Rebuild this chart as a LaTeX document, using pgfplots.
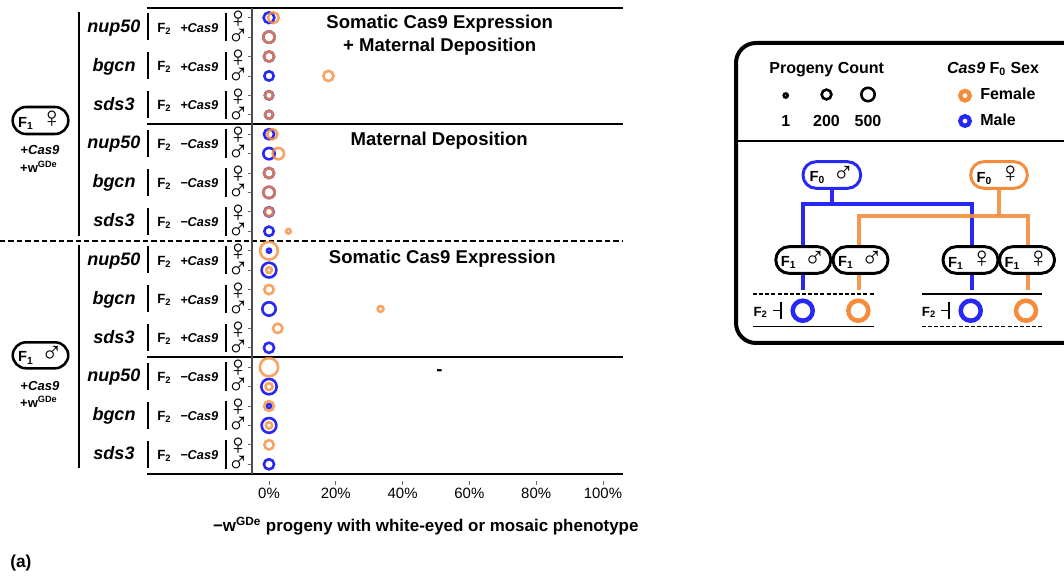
\documentclass[border=0pt]{standalone}
\usepackage{pgfplots}
\pgfplotsset{compat=1.18}
\usepackage{pgfplotstable}
\usepackage{fontspec}
\setmainfont{Liberation Sans}
\definecolor{cOr}{RGB}{245,140,60}
\definecolor{cBl}{RGB}{40,40,245}
\newcommand\fs[1]{\fontsize{#1}{#1}\selectfont}

% F0 male (blue): row (1 = top), x = % white-eyed/mosaic, n = progeny count
\pgfplotstableread{
row x n
1 0 270
2 0 317
3 0 227
4 0 175
5 0 120
6 0 101
7 0 227
8 0 317
9 0 227
10 0 317
11 0 175
12 0 175
13 0 1
14 0 654
16 0 500
18 0 227
20 0 726
21 0 1
22 0 654
24 0 227
}\maleT
% F0 female (orange)
\pgfplotstableread{
row x n
1 1.3 270
2 0 317
3 0 227
4 17.8 227
5 0 101
6 0 101
7 1.0 227
8 2.8 317
9 0 227
10 0 317
11 0 130
12 5.8 5
13 0 1051
14 0 25
15 0 175
16 33.4 25
17 2.6 175
19 0 1130
20 0 60
21 0 200
22 0 41
23 0 175
}\femaleT

\pgfplotsset{
  ring/.style={scatter, only marks, mark=o,
    scatter/use mapped color={draw=#1, fill=none},
    mark options={line width=1.95pt},
    visualization depends on={1.35+0.164*sqrt(\thisrow{n}) \as \ms},
    scatter/@pre marker code/.append style={/tikz/mark size=\ms}},
}

\begin{document}
\begin{tikzpicture}
\path[use as bounding box] (0,0) rectangle (798pt,-432.75pt);

\begin{scope}[x=0.75pt,y=-0.75pt]
  % frame lines of the panels
  \draw[line width=1.5pt] (147,8) -- (623,8);
  \draw[line width=1.5pt] (147,124.5) -- (623,124.5);
  \draw[line width=1.5pt] (147,357.3) -- (623,357.3);
  \draw[line width=1.5pt] (147,474) -- (623,474);
  \draw[line width=1.3pt, dash pattern=on 4pt off 2.3pt] (0,240.9) -- (623,240.9);
  \draw[line width=1pt, black!70] (252,8) -- (252,474);
  % group brackets
  \draw[line width=1.9pt] (79,12) -- (79,236);
  \draw[line width=1.9pt] (79,245) -- (79,468);
  % row labels
  \foreach \k/\g/\s in {0/nup50/+,1/bgcn/+,2/sds3/+,3/nup50/−,4/bgcn/−,5/sds3/−,6/nup50/+,7/bgcn/+,8/sds3/+,9/nup50/−,10/bgcn/−,11/sds3/−}{
    \pgfmathsetmacro\m{27.42+38.833*\k}
    \node[anchor=base, font=\fs{13.5}\bfseries\itshape, inner sep=0] at (114,\m+5) {\g};
    \draw[line width=1.7pt] (148,\m-14) -- (148,\m+13);
    \draw[line width=1.7pt] (226,\m-14.5) -- (226,\m+14);
    \node[anchor=base west, font=\fs{10}\bfseries, inner sep=0] at (157,\m+4.6) {F\textsubscript{2}};
    \node[anchor=base west, font=\fs{9.6}\bfseries\itshape, inner sep=0] at (180,\m+4.8) {\s Cas9};
    \node[font=\fs{22}, inner sep=0] at (238,\m-8.2) {♀};
    \node[font=\fs{22}, inner sep=0] at (238,\m+9.7) {♂};
  }
  % F1 boxes
  \draw[line width=1.9pt, rounded corners=10pt] (12.7,107) rectangle (68.3,134);
  \node[font=\fs{11}\bfseries] at (40.5,120.5) {F\textsubscript{1}\enspace{\fs{22}♀}};
  \node[anchor=base, font=\fs{9.8}\bfseries] at (40,155) {+\textit{Cas9}};
  \node[anchor=base, font=\fs{9.8}\bfseries] at (38.8,172.7) {+w\textsuperscript{GDe}};
  \draw[line width=1.9pt, rounded corners=10pt] (12.7,342.3) rectangle (68.3,368.3);
  \node[font=\fs{11}\bfseries] at (40.5,355.3) {F\textsubscript{1}\enspace{\fs{22}♂}};
  \node[anchor=base, font=\fs{9.8}\bfseries] at (40,390) {+\textit{Cas9}};
  \node[anchor=base, font=\fs{9.8}\bfseries] at (38.8,407.7) {+w\textsuperscript{GDe}};
  % panel titles
  \node[anchor=base, font=\fs{13.9}\bfseries] at (439.7,28.3) {Somatic Cas9 Expression};
  \node[anchor=base, font=\fs{13.9}\bfseries] at (439.7,51.7) {+ Maternal Deposition};
  \node[anchor=base, font=\fs{13.9}\bfseries] at (439.2,145.2) {Maternal Deposition};
  \node[anchor=base, font=\fs{13.9}\bfseries] at (442.3,263.3) {Somatic Cas9 Expression};
  \node[anchor=base, font=\fs{13.9}\bfseries] at (439.5,375) {-};
  % x label and panel tag
  \node[anchor=base, font=\fs{12.7}\bfseries] at (425.8,531) {−w\textsuperscript{GDe} progeny with white-eyed or mosaic phenotype};
  \node[anchor=base west, font=\fs{13}\bfseries, inner sep=0] at (10,567) {(a)};

  % legend box
  \draw[line width=3pt, rounded corners=15pt] (736,43) rectangle (1095,343);
  \draw[line width=1.5pt] (736,141) -- (1064,141);
  \node[anchor=base, font=\fs{12}\bfseries] at (826.7,73.5) {Progeny Count};
  \node[anchor=base, font=\fs{12}\bfseries] at (993,73.5) {\textit{Cas9} F\textsubscript{0} Sex};
  \node[anchor=base, font=\fs{12}\bfseries] at (785.7,126.7) {1};
  \node[anchor=base, font=\fs{12}\bfseries] at (826.5,126.7) {200};
  \node[anchor=base, font=\fs{12}\bfseries] at (868,126.7) {500};
  \node[anchor=base west, font=\fs{12}\bfseries, inner sep=0] at (980,100) {Female};
  \node[anchor=base west, font=\fs{12}\bfseries, inner sep=0] at (980,126) {Male};
  % pedigree schematic
  \draw[cBl, line width=3pt] (832,188) -- (832,204);
  \draw[cBl, line width=3pt] (803.3,290) -- (803.3,204) -- (971.5,204) -- (971.5,290);
  \draw[cOr, line width=3pt, opacity=0.9] (999,188) -- (999,215.7);
  \draw[cOr, line width=3pt, opacity=0.9] (859.3,290) -- (859.3,215.7) -- (1028,215.7) -- (1028,290);
  \draw[cBl, line width=2.2pt, rounded corners=9.8pt, fill=white] (803,161.7) rectangle (860.7,188.3);
  \node[font=\fs{11}\bfseries] at (832,175) {F\textsubscript{0}\enspace{\fs{22}♂}};
  \draw[cOr, line width=2.2pt, rounded corners=9.8pt, fill=white] (970.7,161.7) rectangle (1027.3,188.3);
  \node[font=\fs{11}\bfseries] at (999,175) {F\textsubscript{0}\enspace{\fs{22}♀}};
  \foreach \cx/\sx in {803.3/♂,860.5/♂,970.5/♀,1027/♀}{
    \draw[line width=2.2pt, rounded corners=9.8pt, fill=white] (\cx-27.5,246.7) rectangle (\cx+27.5,273.3);
    \node[font=\fs{11}\bfseries] at (\cx,260) {F\textsubscript{1}\enspace{\fs{22}\sx}};
  }
  \draw[line width=1.1pt, dash pattern=on 3pt off 1.6pt] (753,294) -- (874,294);
  \draw[line width=1.1pt] (753,326.7) -- (874,326.7);
  \draw[line width=1.1pt] (921.7,294) -- (1041.7,294);
  \draw[line width=1.1pt, dash pattern=on 3pt off 1.6pt] (921.7,326.7) -- (1041.7,326.7);
  \node[anchor=base west, font=\fs{10}\bfseries, inner sep=0] at (753.3,316) {F\textsubscript{2}};
  \draw[line width=1.1pt] (773,310.7) -- (781,310.7) (781,301.7) -- (781,319.3);
  \node[anchor=base west, font=\fs{10}\bfseries, inner sep=0] at (921.7,316) {F\textsubscript{2}};
  \draw[line width=1.1pt] (941,310.7) -- (949,310.7) (949,301.7) -- (949,319.3);
\end{scope}

% main data axis
\begin{axis}[
  at={(189pt,-6pt)}, anchor=north west,
  scale only axis, width=278.25pt, height=354.5pt,
  xmin=-5.09, xmax=106.0, ymin=0.5, ymax=24.845, y dir=reverse,
  axis x line*=bottom, axis y line*=left,
  axis line style={draw=none},
  xtick={0,20,40,60,80,100},
  xticklabels={0\%,20\%,40\%,60\%,80\%,100\%},
  ytick={1,...,24}, yticklabels={},
  tick align=outside, major tick length=3.2pt,
  tick style={line width=0.6pt, black!60},
  xticklabel style={font=\fs{11.2}, yshift=1pt},
  /pgf/number format/assume math mode=true,
  clip=false,
]
\addplot[ring=cBl] table[x=x, y=row] {\maleT};
\addplot[ring={cOr, draw opacity=0.8}] table[x=x, y=row] {\femaleT};
\end{axis}

% legend symbols axis (pixel coordinates of the picture)
\begin{axis}[
  at={(0pt,0pt)}, anchor=north west,
  scale only axis, width=798pt, height=432.75pt,
  xmin=0, xmax=1064, ymin=0, ymax=577, y dir=reverse,
  hide axis, clip=false,
]
\addplot[ring=black] table[row sep=\\, x=x, y=y] {x y n\\ 785.7 95.5 1\\ 826.5 94.5 200\\ 868 94.5 500\\};
\addplot[cOr, only marks, mark=o, mark size=3.6pt, mark options={line width=3.2pt}] coordinates {(965,95.7)};
\addplot[cBl, only marks, mark=o, mark size=3.6pt, mark options={line width=3.2pt}] coordinates {(965,121)};
\addplot[cBl, only marks, mark=o, mark size=7.5pt, mark options={line width=3.4pt}] coordinates {(802.7,310.7) (970.7,310.7)};
\addplot[cOr, only marks, mark=o, mark size=7.5pt, mark options={line width=3.4pt}] coordinates {(858.3,310.7) (1026,310.7)};
\end{axis}
\end{tikzpicture}
\end{document}
